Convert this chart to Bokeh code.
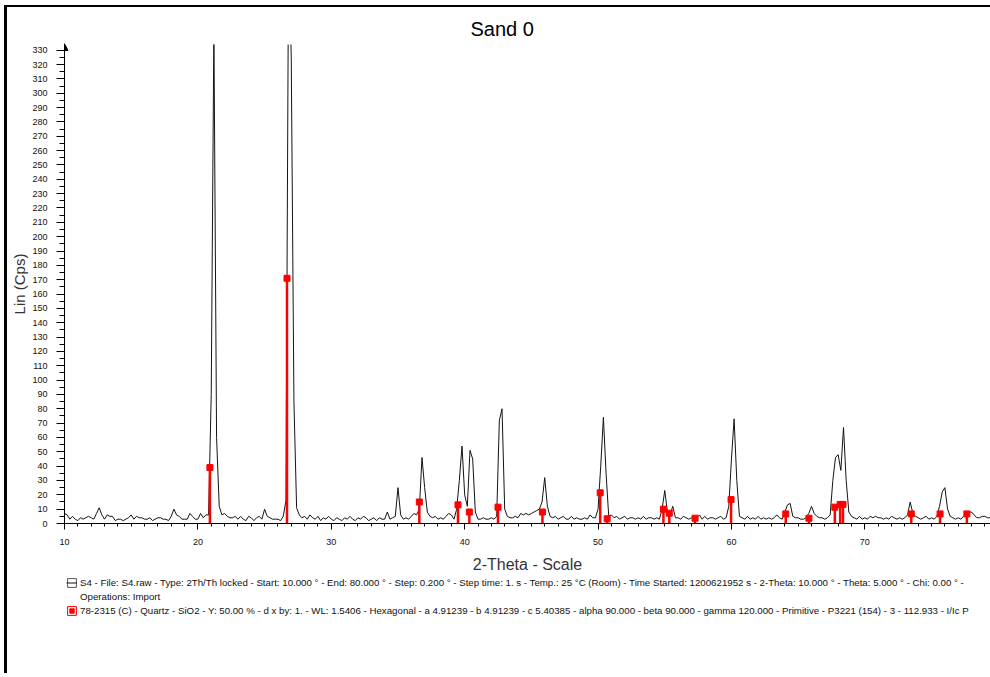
from bokeh.plotting import figure
from bokeh.layouts import column
from bokeh.models import (Range1d, SingleIntervalTicker, Legend, LegendItem,
                          Arrow, NormalHead)
from bokeh.embed import file_html
from bokeh.resources import INLINE

# ---------------- data ----------------
scan_start = 10.0      # Start: 10.000 deg
scan_step = 0.2        # Step: 0.200 deg

counts = [
    7, 6, 3, 5, 3,        # 10
    2, 4, 3, 4, 5,        # 11
    4, 3, 7, 11, 6,       # 12
    3, 6, 5, 5, 2,        # 13
    3, 3, 2, 3, 4,        # 14
    6, 3, 5, 4, 4,        # 15
    3, 3, 4, 2, 3,        # 16
    4, 4, 3, 3, 2,        # 17
    5, 10, 6, 5, 3,       # 18
    3, 3, 7, 5, 3,        # 19
    3, 7, 4, 6, 6,        # 20
    90, 345, 60, 12, 6,   # 21
    7, 5, 4, 4, 5,        # 22
    3, 5, 3, 2, 5,        # 23
    4, 2, 4, 5, 3,        # 24
    10, 5, 4, 3, 3,       # 25
    3, 2, 5, 16, 400,     # 26
    325, 85, 11, 6, 4,    # 27
    5, 3, 6, 4, 3,        # 28
    5, 2, 4, 3, 5,        # 29
    3, 2, 4, 3, 2,        # 30
    4, 3, 5, 3, 2,        # 31
    4, 3, 5, 4, 2,        # 32
    3, 4, 2, 4, 3,        # 33
    3, 8, 3, 4, 5,        # 34
    25, 6, 3, 4, 3,       # 35
    5, 7, 6, 10, 46,      # 36
    25, 8, 5, 4, 5,       # 37
    3, 4, 3, 5, 7,        # 38
    6, 3, 10, 30, 54,     # 39
    20, 12, 51, 45, 8,    # 40
    3, 3, 4, 3, 3,        # 41
    4, 3, 5, 72, 80,      # 42
    10, 5, 4, 4, 5,       # 43
    4, 7, 6, 7, 6,        # 44
    7, 8, 9, 10, 15,      # 45
    32, 12, 5, 4, 5,      # 46
    3, 4, 5, 3, 3,        # 47
    5, 3, 4, 3, 3,        # 48
    4, 3, 6, 4, 4,        # 49
    10, 40, 74, 35, 5,    # 50
    6, 4, 5, 3, 4,        # 51
    5, 3, 4, 4, 3,        # 52
    4, 3, 5, 3, 4,        # 53
    4, 3, 4, 3, 10,       # 54
    23, 8, 6, 12, 4,      # 55
    4, 3, 5, 4, 3,        # 56
    4, 3, 4, 6, 3,        # 57
    5, 3, 4, 4, 3,        # 58
    4, 5, 3, 4, 12,       # 59
    45, 73, 30, 5, 4,     # 60
    3, 5, 3, 4, 3,        # 61
    5, 3, 4, 3, 4,        # 62
    3, 4, 6, 4, 3,        # 63
    8, 13, 14, 5, 4,      # 64
    4, 3, 3, 4, 7,        # 65
    12, 7, 5, 4, 4,       # 66
    3, 4, 6, 30, 46,      # 67
    48, 37, 67, 30, 8,    # 68
    5, 4, 3, 5, 3,        # 69
    4, 3, 5, 4, 5,        # 70
    4, 4, 3, 4, 3,        # 71
    5, 4, 3, 4, 3,        # 72
    4, 6, 15, 7, 5,       # 73
    4, 3, 4, 5, 3,        # 74
    4, 3, 5, 12, 22,      # 75
    25, 10, 5, 4, 3,      # 76
    4, 3, 5, 7, 8,        # 77
    8, 6, 4, 4, 5,        # 78
    5, 4, 4, 4, 5,        # 79
    4,                    # 80
]
two_theta = [round(scan_start + scan_step * i, 1) for i in range(len(counts))]

# Quartz reference pattern (78-2315) sticks
stick_theta = [20.9, 26.68, 36.6, 39.5, 40.35, 42.5, 45.83, 50.16, 50.68,
               54.9, 55.34, 57.27, 59.97, 64.07, 65.81, 67.75, 68.15, 68.36,
               73.48, 75.64, 77.65]
stick_int = [39, 171, 15, 13, 8, 11.4, 8, 21.4, 3.3,
             10, 7.2, 3.7, 16.7, 6.7, 3.7, 11.4, 13.3, 13.3,
             6.7, 6.7, 6.7]

title_text = "Sand 0"
x_label = "2-Theta - Scale"
y_label = "Lin (Cps)"
legend_scan = ("S4 - File: S4.raw - Type: 2Th/Th locked - Start: 10.000 \u00b0 - "
               "End: 80.000 \u00b0 - Step: 0.200 \u00b0 - Step time: 1. s - "
               "Temp.: 25 \u00b0C (Room) - Time Started: 1200621952 s - "
               "2-Theta: 10.000 \u00b0 - Theta: 5.000 \u00b0 - Chi: 0.00 \u00b0 -")
legend_ops = "Operations: Import"
legend_phase = ("78-2315 (C) - Quartz - SiO2 - Y: 50.00 % - d x by: 1. - WL: 1.5406 - "
                "Hexagonal - a 4.91239 - b 4.91239 - c 5.40385 - alpha 90.000 - "
                "beta 90.000 - gamma 120.000 - Primitive - P3221 (154) - 3 - "
                "112.933 - I/Ic P")

FONT = "Liberation Sans"
LINE_COLOR = "#141414"
STICK_COLOR = "red"

# ---------------- main figure ----------------
p = figure(width=983, height=570, output_backend="svg", toolbar_location=None,
           x_range=Range1d(10, 79.42), y_range=Range1d(0, 334),
           min_border_left=57, min_border_right=0, min_border_top=37,
           min_border_bottom=54)
p.background_fill_color = "white"
p.border_fill_color = "white"
p.outline_line_color = None
p.grid.visible = False

p.title.text = title_text
p.title.align = "left"
p.title.offset = 406
p.title.standoff = 9
p.title.text_font = FONT
p.title.text_font_size = "20px"
p.title.text_font_style = "normal"
p.title.text_color = "black"

p.xaxis.ticker = SingleIntervalTicker(interval=10, num_minor_ticks=10)
p.yaxis.ticker = SingleIntervalTicker(interval=10, num_minor_ticks=2)
for ax in (p.xaxis[0], p.yaxis[0]):
    ax.axis_line_color = "black"
    ax.major_tick_line_color = "black"
    ax.minor_tick_line_color = "black"
    ax.major_tick_in = 0
    ax.minor_tick_in = 0
    ax.major_label_text_font = FONT
    ax.major_label_text_font_size = "9px"
    ax.major_label_text_color = "#111111"
    ax.axis_label_text_font = FONT
    ax.axis_label_text_font_style = "normal"
    ax.axis_label_text_color = "#333333"

p.xaxis.axis_label = x_label
p.xaxis.major_tick_out = 6
p.xaxis.minor_tick_out = 3
p.xaxis.major_label_standoff = 9
p.xaxis.axis_label_standoff = 8
p.xaxis.axis_label_text_font_size = "16px"

p.yaxis.axis_label = y_label
p.yaxis.major_tick_out = 8
p.yaxis.minor_tick_out = 5
p.yaxis.major_label_standoff = 9
p.yaxis.axis_label_standoff = 1
p.yaxis.axis_label_text_font_size = "15px"

# measured pattern
p.line(two_theta, counts, line_color=LINE_COLOR, line_width=1)

# reference sticks
p.segment(x0=stick_theta, y0=0, x1=stick_theta, y1=stick_int,
          line_color=STICK_COLOR, line_width=2.5)
p.scatter(stick_theta, stick_int, marker="square", size=6,
          fill_color=STICK_COLOR, line_color=STICK_COLOR)

# arrow head on top of the y axis
p.add_layout(Arrow(end=NormalHead(size=7, fill_color="black", line_color="black"),
                   x_start=0, y_start=470, x_end=0, y_end=480,
                   start_units="screen", end_units="screen",
                   line_color="black", line_width=1))

# ---------------- legend strip ----------------
# The strip's ranges exclude all data, so its renderers only supply legend icons.
q = figure(width=983, height=96, output_backend="svg", toolbar_location=None,
           x_axis_type=None, y_axis_type=None, x_range=Range1d(0, 1),
           y_range=Range1d(-2, -1), min_border=0)
q.outline_line_color = None
q.grid.visible = False
q.background_fill_color = "white"
q.border_fill_color = "white"

k_box1 = q.quad(left=stick_theta, right=stick_theta, top=stick_int, bottom=0,
                fill_color="white", line_color="#555555", line_width=1)
k_line = q.line(two_theta, counts, line_color=LINE_COLOR, line_width=1)
k_blank = q.line(two_theta, counts, line_alpha=0)
k_box2 = q.quad(left=stick_theta, right=stick_theta, top=stick_int, bottom=0,
                fill_color="white", line_color=STICK_COLOR, line_width=1)
k_caps = q.scatter(stick_theta, stick_int, marker="square", size=6,
                   fill_color=STICK_COLOR, line_color=STICK_COLOR)

legend = Legend(items=[
    LegendItem(label=legend_scan, renderers=[k_box1, k_line]),
    LegendItem(label=legend_ops, renderers=[k_blank]),
    LegendItem(label=legend_phase, renderers=[k_box2, k_caps]),
], location=(2, 57), orientation="vertical")
legend.padding = 0
legend.margin = 0
legend.spacing = 3
legend.glyph_width = 11
legend.glyph_height = 11
legend.label_height = 11
legend.label_standoff = 3
legend.label_text_font = FONT
legend.label_text_font_size = "9.7px"
legend.label_text_color = "#111111"
legend.background_fill_alpha = 0
legend.border_line_color = None
q.add_layout(legend)

page = column(p, q, spacing=0,
              styles={"margin-left": "4px", "margin-top": "5px",
                      "border-left": "3px solid black",
                      "border-top": "2px solid black"})

open("out.html", "w").write(file_html(page, INLINE))
